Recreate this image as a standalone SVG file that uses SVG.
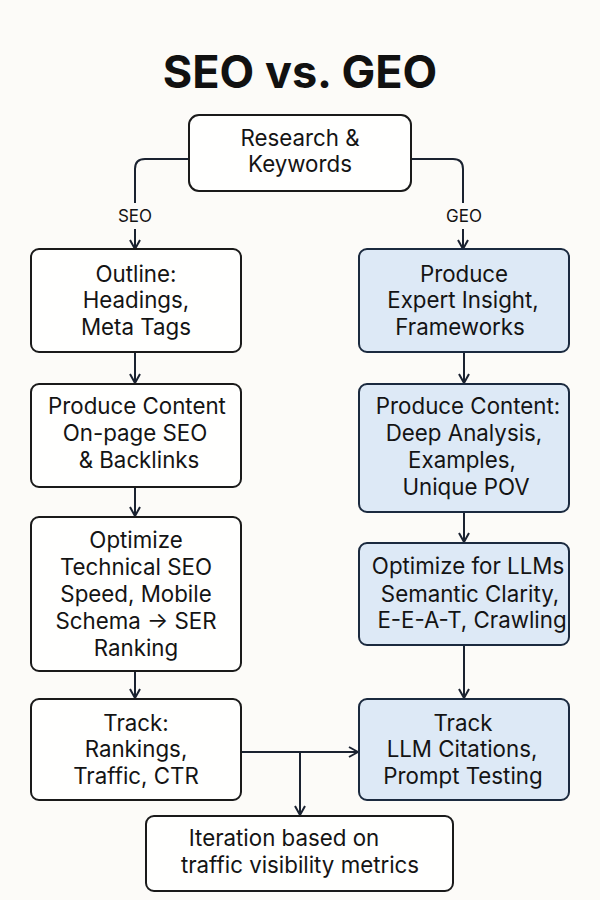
<svg xmlns="http://www.w3.org/2000/svg" width="600" height="900" viewBox="0 0 600 900">
<defs>
<style>
.bg{fill:#fcfbf8}
.l{fill:#fffffe;stroke:#1a1a1a;stroke-width:2}
.r{fill:#dde9f6;stroke:#1b2a3f;stroke-width:2}
.t{font-family:Inter,"Liberation Sans",sans-serif;font-size:22.3px;fill:#141414;text-anchor:middle}
.lab{font-family:Inter,"Liberation Sans",sans-serif;font-size:17px;fill:#141414;text-anchor:middle}
.title{font-family:Inter,"Liberation Sans",sans-serif;font-size:45px;font-weight:bold;fill:#111;text-anchor:middle}
.c{fill:none;stroke:#1a2230;stroke-width:2}
</style>
<marker id="ah" viewBox="0 0 12 12" refX="11" refY="6" markerWidth="12" markerHeight="12" markerUnits="userSpaceOnUse" orient="auto">
<polyline points="2,1 11,6 2,11" fill="none" stroke="#1a2230" stroke-width="2"/>
</marker>
</defs>
<rect class="bg" width="600" height="900"/>
<text class="title" x="300" y="88">SEO vs. GEO</text>

<g id="connectors">
<path class="c" d="M189,159 H145 Q135,159 135,169 V203"/>
<path class="c" d="M135,229 V249" marker-end="url(#ah)"/>
<path class="c" d="M411,159 H453 Q463,159 463,169 V203"/>
<path class="c" d="M463,229 V249" marker-end="url(#ah)"/>
<text class="lab" x="135" y="222">SEO</text>
<text class="lab" x="464" y="222">GEO</text>
<path class="c" d="M135,352 V383" marker-end="url(#ah)"/>
<path class="c" d="M135,487 V516" marker-end="url(#ah)"/>
<path class="c" d="M135,671 V698" marker-end="url(#ah)"/>
<path class="c" d="M464,352 V383" marker-end="url(#ah)"/>
<path class="c" d="M464,512 V542" marker-end="url(#ah)"/>
<path class="c" d="M464,645 V698" marker-end="url(#ah)"/>
<path class="c" d="M241,752 H358" marker-end="url(#ah)"/>
<path class="c" d="M300,752 V815" marker-end="url(#ah)"/>
</g>

<g id="research">
<rect class="l" x="189" y="115" width="222" height="76" rx="10"/>
<text class="t" x="300" y="146">Research &amp;</text>
<text class="t" x="300" y="172">Keywords</text>
</g>

<g id="seo-outline">
<rect class="l" x="31" y="249" width="210" height="103" rx="8"/>
<text class="t" x="136" y="282">Outline:</text>
<text class="t" x="136" y="308">Headings,</text>
<text class="t" x="136" y="335">Meta Tags</text>
</g>

<g id="seo-content">
<rect class="l" x="31" y="384" width="210" height="103" rx="8"/>
<text class="t" x="137" y="414">Produce Content</text>
<text class="t" x="135" y="441">On-page SEO</text>
<text class="t" x="139" y="468">&amp; Backlinks</text>
</g>

<g id="seo-optimize">
<rect class="l" x="31" y="517" width="210" height="154" rx="8"/>
<text class="t" x="136" y="548">Optimize</text>
<text class="t" x="136" y="575">Technical SEO</text>
<text class="t" x="136" y="602">Speed, Mobile</text>
<text class="t" x="136" y="629">Schema → SER</text>
<text class="t" x="136" y="656">Ranking</text>
</g>

<g id="seo-track">
<rect class="l" x="31" y="699" width="210" height="101" rx="8"/>
<text class="t" x="136" y="731">Track:</text>
<text class="t" x="136" y="757">Rankings,</text>
<text class="t" x="136" y="784">Traffic, CTR</text>
</g>

<g id="geo-insight">
<rect class="r" x="359" y="249" width="210" height="103" rx="8"/>
<text class="t" x="464" y="282">Produce</text>
<text class="t" x="463" y="308">Expert Insight,</text>
<text class="t" x="460" y="335">Frameworks</text>
</g>

<g id="geo-content">
<rect class="r" x="359" y="384" width="210" height="128" rx="8"/>
<text class="t" x="468" y="414">Produce Content:</text>
<text class="t" x="464" y="441">Deep Analysis,</text>
<text class="t" x="462" y="468">Examples,</text>
<text class="t" x="466" y="495">Unique POV</text>
</g>

<g id="geo-optimize">
<rect class="r" x="359" y="543" width="210" height="102" rx="8"/>
<text class="t" x="468" y="574">Optimize for LLMs</text>
<text class="t" x="470" y="602">Semantic Clarity,</text>
<text class="t" x="472" y="628">E-E-A-T, Crawling</text>
</g>

<g id="geo-track">
<rect class="r" x="359" y="699" width="210" height="101" rx="8"/>
<text class="t" x="463" y="731">Track</text>
<text class="t" x="462" y="757">LLM Citations,</text>
<text class="t" x="463" y="784">Prompt Testing</text>
</g>

<g id="iteration">
<rect class="l" x="146" y="816" width="307" height="75" rx="8"/>
<text class="t" x="284" y="846">Iteration based on</text>
<text class="t" x="300" y="873">traffic visibility metrics</text>
</g>
</svg>
